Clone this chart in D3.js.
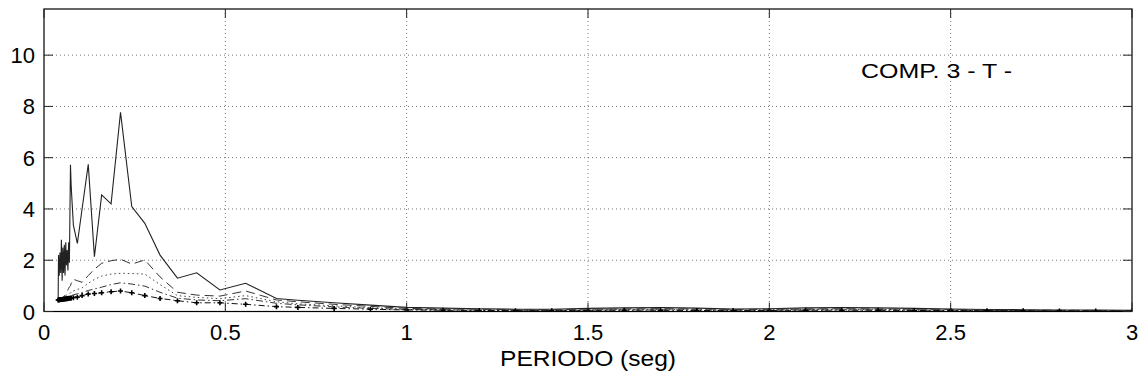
<!DOCTYPE html>
<html><head><meta charset="utf-8">
<script src="https://cdn.jsdelivr.net/npm/d3@7"></script>
<style>body{margin:0;background:#fff}svg{display:block}text{font-family:"Liberation Sans",Arial,sans-serif;fill:#000}</style>
</head><body><svg id="c" width="1146" height="384"></svg>
<script>
const periods = [0.039,0.040,0.042,0.044,0.046,0.048,0.050,0.052,0.054,0.056,0.058,0.060,0.062,0.064,0.066,0.068,0.070,
 0.073,0.075,0.081,0.092,0.105,0.122,0.139,0.159,0.185,0.211,0.242,0.278,0.32,0.368,0.421,0.485,0.556,0.641,0.7,0.8,0.9,1.0,
 1.1,1.2,1.3,1.4,1.5,1.6,1.7,1.8,1.9,2.0,2.1,2.2,2.3,2.4,2.5,2.6,2.7,2.8,2.9,3.0];
const solid = [0.45,2.2,1.4,2.3,1.5,2.8,1.2,2.5,1.5,2.6,1.4,2.7,1.8,2.4,1.6,2.7,1.9,
 5.72,4.87,3.37,2.66,4.0,5.74,2.14,4.55,4.2,7.77,4.09,3.44,2.2,1.30,1.51,0.84,1.10,0.51,0.44,0.34,0.25,0.16,
 0.13,0.11,0.09,0.09,0.12,0.14,0.15,0.13,0.10,0.11,0.14,0.15,0.14,0.12,0.10,0.08,0.07,0.06,0.06,0.05];
const dashed = [0.45,0.46,0.47,0.48,0.49,0.5,0.52,0.54,0.57,0.6,0.64,0.68,0.73,0.78,0.84,0.9,0.96,
 1.0,1.1,1.26,1.2,1.14,1.4,1.65,1.88,1.98,2.04,1.85,2.01,1.35,0.75,0.64,0.6,0.8,0.45,0.38,0.28,0.2,0.12,
 0.1,0.09,0.07,0.07,0.09,0.1,0.11,0.1,0.08,0.09,0.1,0.11,0.1,0.09,0.08,0.06,0.05,0.05,0.04,0.04];
const dotted = [0.45,0.46,0.47,0.48,0.49,0.5,0.51,0.53,0.55,0.57,0.59,0.61,0.64,0.66,0.68,0.7,0.71,
 0.72,0.75,0.8,0.86,0.92,1.1,1.25,1.38,1.46,1.49,1.48,1.46,1.05,0.62,0.55,0.5,0.62,0.38,0.3,0.22,0.15,0.09,
 0.07,0.06,0.05,0.05,0.07,0.08,0.08,0.07,0.06,0.07,0.08,0.08,0.08,0.07,0.06,0.05,0.04,0.04,0.03,0.03];
const dashdot = [0.45,0.45,0.46,0.47,0.48,0.49,0.5,0.51,0.52,0.53,0.54,0.55,0.56,0.57,0.58,0.59,0.6,
 0.6,0.62,0.65,0.69,0.74,0.82,0.88,0.95,1.05,1.12,1.07,0.99,0.75,0.52,0.45,0.42,0.5,0.32,0.26,0.18,0.12,0.08,
 0.06,0.05,0.04,0.04,0.05,0.06,0.06,0.06,0.05,0.05,0.06,0.06,0.06,0.05,0.05,0.04,0.03,0.03,0.03,0.03];
const marked = [0.45,0.45,0.46,0.46,0.47,0.47,0.47,0.48,0.48,0.49,0.49,0.5,0.5,0.5,0.51,0.51,0.52,
 0.52,0.53,0.54,0.56,0.62,0.68,0.70,0.73,0.77,0.80,0.73,0.62,0.51,0.42,0.34,0.34,0.28,0.19,0.16,0.12,0.09,0.06,
 0.05,0.04,0.03,0.03,0.04,0.05,0.05,0.04,0.04,0.04,0.05,0.05,0.05,0.04,0.04,0.03,0.03,0.02,0.02,0.02];
const xTicks = [0,0.5,1,1.5,2,2.5,3];
const xTickLabels = ["0","0.5","1","1.5","2","2.5","3"];
const yTicks = [0,2,4,6,8,10];
const yTickLabels = ["0","2","4","6","8","10"];
const xTitle = "PERIODO (seg)";
const annotation = "COMP. 3 - T -";

const svg = d3.select("#c");
const L=44, R=1132, T=9, B=311.5;
const x = d3.scaleLinear().domain([0,3]).range([L,R]);
const y = d3.scaleLinear().domain([0,11.8]).range([B,T]);

// grid
const g = svg.append("g");
g.selectAll("line.gx").data(xTicks.slice(1,-1)).join("line")
 .attr("x1",d=>x(d)).attr("x2",d=>x(d)).attr("y1",T).attr("y2",B)
 .attr("stroke","#777").attr("stroke-width",1).attr("stroke-dasharray","1,3");
g.selectAll("line.gy").data(yTicks.slice(1)).join("line")
 .attr("y1",d=>y(d)).attr("y2",d=>y(d)).attr("x1",L).attr("x2",R)
 .attr("stroke","#777").attr("stroke-width",1).attr("stroke-dasharray","1,3");

svg.append("defs").append("clipPath").attr("id","clip").append("rect")
 .attr("x",L).attr("y",T).attr("width",R-L).attr("height",B-T);

const series = [
 {v:solid, dash:null, w:1.1, c:"#222"},
 {v:dashed, dash:"9,5", w:1, c:"#333"},
 {v:dotted, dash:"1.5,3", w:1, c:"#444"},
 {v:dashdot, dash:"7,3,1.5,3", w:1, c:"#333"},
 {v:marked, dash:"6,3,1.5,3", w:1, c:"#111"}
];
const line = d3.line().x((d,i)=>x(periods[i])).y(d=>y(d));
const pg = svg.append("g").attr("clip-path","url(#clip)");
series.forEach(s=>{
 pg.append("path").datum(s.v).attr("d",line).attr("fill","none")
  .attr("stroke",s.c).attr("stroke-width",s.w).attr("stroke-dasharray",s.dash);
});
// + markers
pg.selectAll("path.mk").data(marked).join("path")
 .attr("d",(d,i)=>{const px=x(periods[i]),py=y(d);return `M${px-2.5},${py}H${px+2.5}M${px},${py-2.5}V${py+2.5}`;})
 .attr("stroke","#000").attr("stroke-width",1.6);

// frame
svg.append("rect").attr("x",L).attr("y",T).attr("width",R-L).attr("height",B-T)
 .attr("fill","none").attr("stroke","#000").attr("stroke-width",1.2);

// ticks inward on all sides
const tk=9;
const tg=svg.append("g").attr("stroke","#222").attr("stroke-width",1);
xTicks.forEach(d=>{
 tg.append("line").attr("x1",x(d)).attr("x2",x(d)).attr("y1",B).attr("y2",B-tk);
 tg.append("line").attr("x1",x(d)).attr("x2",x(d)).attr("y1",T).attr("y2",T+tk);
});
yTicks.forEach(d=>{
 tg.append("line").attr("y1",y(d)).attr("y2",y(d)).attr("x1",L).attr("x2",L+tk);
 tg.append("line").attr("y1",y(d)).attr("y2",y(d)).attr("x1",R).attr("x2",R-tk);
});

svg.append("g").selectAll("text").data(xTicks).join("text")
 .attr("x",d=>x(d)).attr("y",340).attr("text-anchor","middle").attr("font-size",22)
 .text((d,i)=>xTickLabels[i]);
svg.append("g").selectAll("text").data(yTicks).join("text")
 .attr("x",35).attr("y",d=>y(d)+8).attr("text-anchor","end").attr("font-size",22)
 .text((d,i)=>yTickLabels[i]);
svg.append("text").attr("x",(L+R)/2).attr("y",366).attr("text-anchor","middle")
 .attr("font-size",22).attr("textLength",176).attr("lengthAdjust","spacingAndGlyphs").text(xTitle);
svg.append("text").attr("x",861).attr("y",78).attr("font-size",21)
 .attr("textLength",151).attr("lengthAdjust","spacingAndGlyphs").text(annotation);
</script></body></html>
